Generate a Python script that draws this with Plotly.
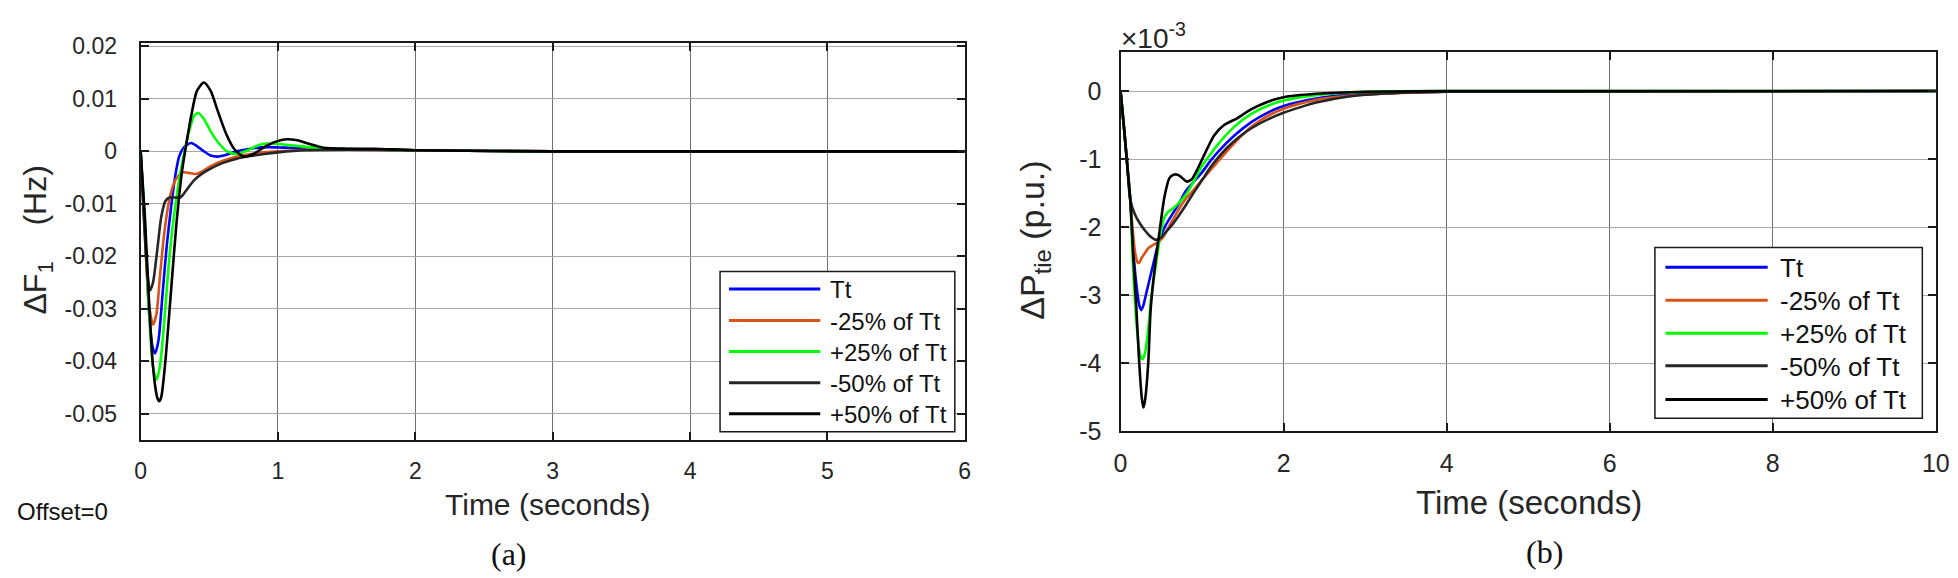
import plotly.graph_objects as go

W, H = 1958, 578

# ---------------- data ----------------
SERIES_NAMES = ["Tt", "-25% of Tt", "+25% of Tt", "-50% of Tt", "+50% of Tt"]
COLORS = ["#0000FF", "#D95319", "#00FF00", "#262626", "#000000"]

# Panel (a): Delta F1 (Hz) vs time (s)
A_T_TT = [0, 0.03, 0.06, 0.085, 0.105, 0.13, 0.16, 0.19, 0.22, 0.25, 0.28, 0.31, 0.34, 0.37, 0.41,
          0.46, 0.51, 0.56, 0.63, 0.7, 0.8, 0.92, 1.05, 1.3, 1.6, 2.0, 3.0, 6.0]
A_Y_TT = [0, -0.014, -0.030, -0.037, -0.0385, -0.036, -0.027, -0.018, -0.011, -0.005, -0.001, 0.0006,
          0.0013, 0.0016, 0.001, 0.0, -0.0008, -0.001, -0.0006, 0.0, 0.0005, 0.0008, 0.0007, 0.0005,
          0.0004, 0.0002, 0, 0]
A_T_M25 = [0, 0.03, 0.06, 0.09, 0.115, 0.14, 0.17, 0.2, 0.23, 0.27, 0.31, 0.35, 0.4, 0.45, 0.51, 0.6,
           0.7, 0.8, 0.9, 1.0, 1.2, 1.5, 2.0, 3.0, 6.0]
A_Y_M25 = [0, -0.015, -0.029, -0.033, -0.031, -0.024, -0.016, -0.0105, -0.007, -0.0048, -0.004,
           -0.0041, -0.0043, -0.0038, -0.0028, -0.0018, -0.001, -0.0005, -0.0002, 0.0, 0.0003, 0.0003,
           0.0002, 0, 0]
A_T_P25 = [0, 0.03, 0.06, 0.09, 0.115, 0.14, 0.17, 0.2, 0.23, 0.26, 0.29, 0.32, 0.36, 0.39, 0.42, 0.46,
           0.51, 0.57, 0.63, 0.7, 0.78, 0.86, 0.92, 1.0, 1.11, 1.33, 1.6, 2.0, 3.0, 6.0]
A_Y_P25 = [0, -0.013, -0.030, -0.041, -0.0435, -0.041, -0.033, -0.023, -0.015, -0.009, -0.004, 0.0,
           0.0045, 0.0068, 0.0073, 0.0062, 0.0038, 0.0015, 0.0, -0.0005, 0.0002, 0.0012, 0.0015, 0.0014,
           0.0011, 0.0006, 0.0004, 0.0002, 0, 0]
A_T_M50 = [0, 0.02, 0.045, 0.067, 0.09, 0.12, 0.15, 0.18, 0.21, 0.25, 0.29, 0.33, 0.39, 0.45, 0.51, 0.6,
           0.7, 0.8, 0.9, 1.0, 1.2, 1.5, 2.0, 3.0, 6.0]
A_Y_M50 = [0, -0.011, -0.022, -0.0265, -0.025, -0.019, -0.0125, -0.0095, -0.0088, -0.0088, -0.0088,
           -0.0075, -0.0055, -0.0042, -0.0033, -0.0022, -0.0014, -0.0009, -0.0005, -0.0002, 0.0002,
           0.0003, 0.0002, 0, 0]
A_T_P50 = [0, 0.03, 0.06, 0.09, 0.12, 0.135, 0.15, 0.18, 0.22, 0.26, 0.30, 0.33, 0.37, 0.41, 0.46, 0.51,
           0.56, 0.62, 0.68, 0.75, 0.82, 0.9, 0.98, 1.06, 1.14, 1.23, 1.33, 1.5, 1.7, 2.0, 3.0, 6.0]
A_Y_P50 = [0, -0.012, -0.028, -0.041, -0.0468, -0.0476, -0.0468, -0.040, -0.027, -0.014, -0.004, 0.001,
           0.007, 0.0115, 0.0131, 0.0115, 0.0078, 0.0035, 0.0005, -0.001, -0.0005, 0.0008, 0.0018,
           0.0023, 0.0021, 0.0014, 0.0007, 0.0005, 0.0005, 0.0002, 0, 0]

# Panel (b): Delta P_tie (p.u., in units of 1e-3) vs time (s)
B_T_TT = [0, 0.04, 0.08, 0.12, 0.16, 0.2, 0.23, 0.255, 0.28, 0.31, 0.36, 0.41, 0.45, 0.49, 0.55, 0.63,
          0.71, 0.8, 0.9, 0.99, 1.1, 1.19, 1.4, 1.6, 1.8, 2.0, 2.4, 2.8, 3.2, 4.0, 10.0]
B_Y_TT = [0, -0.5, -1.05, -1.6, -2.4, -2.9, -3.15, -3.22, -3.15, -3.0, -2.75, -2.5, -2.3, -2.14, -1.98,
          -1.82, -1.67, -1.47, -1.33, -1.21, -1.03, -0.9, -0.65, -0.46, -0.32, -0.22, -0.11, -0.05,
          -0.03, -0.01, 0]
B_T_M25 = [0, 0.04, 0.08, 0.12, 0.15, 0.18, 0.21, 0.23, 0.26, 0.3, 0.34, 0.4, 0.46, 0.52, 0.6, 0.71,
           0.79, 0.9, 0.99, 1.09, 1.19, 1.4, 1.6, 1.8, 2.0, 2.4, 2.8, 3.2, 4.0, 10.0]
B_Y_M25 = [0, -0.5, -1.05, -1.6, -2.05, -2.38, -2.52, -2.52, -2.45, -2.38, -2.31, -2.26, -2.22, -2.15,
           -1.98, -1.75, -1.6, -1.45, -1.32, -1.18, -1.04, -0.76, -0.53, -0.37, -0.26, -0.13, -0.07,
           -0.04, -0.01, 0]
B_T_P25 = [0, 0.04, 0.08, 0.12, 0.15, 0.18, 0.21, 0.24, 0.27, 0.3, 0.34, 0.38, 0.44, 0.49, 0.54, 0.59,
           0.65, 0.71, 0.77, 0.83, 0.91, 0.99, 1.09, 1.19, 1.39, 1.6, 1.8, 2.0, 2.4, 3.0, 4.0, 10.0]
B_Y_P25 = [0, -0.5, -1.05, -1.6, -2.5, -3.15, -3.6, -3.88, -3.94, -3.85, -3.5, -3.0, -2.5, -2.1, -1.85,
           -1.77, -1.72, -1.65, -1.57, -1.47, -1.3, -1.12, -0.95, -0.79, -0.53, -0.34, -0.22, -0.14,
           -0.06, -0.01, 0, 0]
B_T_M50 = [0, 0.04, 0.08, 0.12, 0.18, 0.24, 0.3, 0.36, 0.42, 0.46, 0.5, 0.55, 0.63, 0.71, 0.81, 0.91,
           1.01, 1.11, 1.21, 1.31, 1.45, 1.6, 1.8, 2.0, 2.2, 2.4, 2.8, 3.2, 4.0, 10.0]
B_Y_M50 = [0, -0.5, -1.05, -1.6, -1.82, -1.95, -2.05, -2.13, -2.18, -2.18, -2.15, -2.08, -1.97, -1.84,
           -1.66, -1.47, -1.29, -1.11, -0.96, -0.83, -0.68, -0.55, -0.42, -0.32, -0.24, -0.17, -0.08,
           -0.04, -0.01, 0]
B_T_P50 = [0, 0.04, 0.08, 0.12, 0.16, 0.19, 0.23, 0.26, 0.28, 0.3, 0.34, 0.37, 0.42, 0.48, 0.54, 0.6,
           0.65, 0.7, 0.75, 0.81, 0.87, 0.93, 1.03, 1.15, 1.27, 1.43, 1.6, 1.8, 2.0, 2.4, 3.0, 4.0, 10.0]
B_Y_P50 = [0, -0.5, -1.05, -1.6, -2.5, -3.1, -4.0, -4.5, -4.65, -4.55, -4.0, -3.2, -2.6, -2.05, -1.55,
           -1.28, -1.23, -1.23, -1.27, -1.33, -1.3, -1.18, -0.93, -0.65, -0.5, -0.4, -0.27, -0.16,
           -0.09, -0.04, -0.01, 0, 0]

# Axis ticks
A_XTICKS = [0, 1, 2, 3, 4, 5, 6]
A_XTICKTEXT = ["0", "1", "2", "3", "4", "5", "6"]
A_YTICKS = [0.02, 0.01, 0, -0.01, -0.02, -0.03, -0.04, -0.05]
A_YTICKTEXT = ["0.02", "0.01", "0", "-0.01", "-0.02", "-0.03", "-0.04", "-0.05"]
B_XTICKS = [0, 2, 4, 6, 8, 10]
B_XTICKTEXT = ["0", "2", "4", "6", "8", "10"]
B_YTICKS = [0, -1, -2, -3, -4, -5]
B_YTICKTEXT = ["0", "-1", "-2", "-3", "-4", "-5"]

A_SERIES = [(A_T_TT, A_Y_TT), (A_T_M25, A_Y_M25), (A_T_P25, A_Y_P25), (A_T_M50, A_Y_M50), (A_T_P50, A_Y_P50)]
B_SERIES = [(B_T_TT, B_Y_TT), (B_T_M25, B_Y_M25), (B_T_P25, B_Y_P25), (B_T_M50, B_Y_M50), (B_T_P50, B_Y_P50)]

# ---------------- figure ----------------
TEXT = "#262626"
SANS = "Liberation Sans, Arial, sans-serif"
SERIF = "Liberation Serif, Times New Roman, serif"


def px(x):
    return x / W


def py(y):
    return 1 - y / H


fig = go.Figure()
for (t, y), name, col in zip(A_SERIES, SERIES_NAMES, COLORS):
    fig.add_trace(go.Scatter(x=t, y=y, name=name, mode="lines", xaxis="x", yaxis="y",
                             line=dict(color=col, width=2.6, shape="spline", smoothing=0.7),
                             showlegend=False))
for (t, y), name, col in zip(B_SERIES, SERIES_NAMES, COLORS):
    fig.add_trace(go.Scatter(x=t, y=y, name=name, mode="lines", xaxis="x2", yaxis="y2",
                             line=dict(color=col, width=2.6, shape="spline", smoothing=0.7),
                             showlegend=False))

axis_common = dict(showline=True, mirror="ticks", linecolor="#1a1a1a", linewidth=2,
                   ticks="inside", ticklen=8, tickwidth=1.5, tickcolor="#1a1a1a",
                   showgrid=True, zeroline=False)

fig.update_layout(
    width=W, height=H, autosize=False,
    margin=dict(l=0, r=0, t=0, b=0),
    paper_bgcolor="white", plot_bgcolor="white",
    showlegend=False,
    xaxis=dict(domain=[px(127), px(960)], range=[0, 6], tickvals=A_XTICKS, ticktext=A_XTICKTEXT,
               gridcolor="#707070", gridwidth=1, anchor="y", ticklabelstandoff=9,
               tickfont=dict(family=SANS, size=23, color=TEXT), **axis_common),
    yaxis=dict(domain=[py(440.7), py(26.7)], range=[-0.055, 0.0207], tickvals=A_YTICKS,
               ticktext=A_YTICKTEXT, gridcolor="#a8a8a8", gridwidth=1.2, anchor="x",
               ticklabelstandoff=17, tickfont=dict(family=SANS, size=23, color=TEXT), **axis_common),
    xaxis2=dict(domain=[px(1117.5), px(1941.7)], range=[0, 10], tickvals=B_XTICKS, ticktext=B_XTICKTEXT,
                gridcolor="#707070", gridwidth=1, anchor="y2", ticklabelstandoff=9,
                tickfont=dict(family=SANS, size=25, color=TEXT), **axis_common),
    yaxis2=dict(domain=[py(431.5), py(36)], range=[-5, 0.58], tickvals=B_YTICKS, ticktext=B_YTICKTEXT,
                gridcolor="#a8a8a8", gridwidth=1.2, anchor="x2", ticklabelstandoff=12,
                tickfont=dict(family=SANS, size=25, color=TEXT), **axis_common),
)

annotations = [
    dict(text="Time (seconds)", x=px(539), y=py(508), font=dict(family=SANS, size=30, color=TEXT)),
    dict(text="Time (seconds)", x=px(1530), y=py(506), font=dict(family=SANS, size=33, color=TEXT)),
    dict(text="ΔF<sub>1</sub>&nbsp;&nbsp;&nbsp;&nbsp;(Hz)", x=px(23), y=py(232), textangle=-90,
         font=dict(family=SANS, size=32, color=TEXT)),
    dict(text="ΔP<sub>tie</sub> (p.u.)", x=px(1031), y=py(232), textangle=-90,
         font=dict(family=SANS, size=34, color=TEXT)),
    dict(text="×10<sup>-3</sup>", x=px(1116), y=py(20), xanchor="left",
         font=dict(family=SANS, size=28, color=TEXT)),
    dict(text="Offset=0", x=px(0), y=py(515), xanchor="left",
         font=dict(family=SANS, size=24, color="#111111")),
    dict(text="(a)", x=px(499), y=py(559), font=dict(family=SERIF, size=32, color="#111111")),
    dict(text="(b)", x=px(1546), y=py(557), font=dict(family=SERIF, size=32, color="#111111")),
]

shapes = []
# manual legend boxes (MATLAB style)
LEGENDS = [
    dict(box=(712.7, 265, 950, 432), rows=[283.3, 316, 348.3, 381, 413.3],
         line=(721.7, 814), text_x=821.7, size=24),
    dict(box=(1657.7, 240, 1928, 418), rows=[260.7, 295, 329.3, 363.3, 398.3],
         line=(1668.3, 1771.7), text_x=1781.7, size=26),
]
for lg in LEGENDS:
    x0, y0, x1, y1 = lg["box"]
    shapes.append(dict(type="rect", xref="paper", yref="paper", x0=px(x0), x1=px(x1), y0=py(y1), y1=py(y0),
                       fillcolor="white", line=dict(color="#1a1a1a", width=1.5), layer="above"))
    for ry, name, col in zip(lg["rows"], SERIES_NAMES, COLORS):
        shapes.append(dict(type="line", xref="paper", yref="paper", x0=px(lg["line"][0]), x1=px(lg["line"][1]),
                           y0=py(ry), y1=py(ry), line=dict(color=col, width=3), layer="above"))
        annotations.append(dict(text=name, x=px(lg["text_x"]), y=py(ry + 1), xanchor="left",
                                font=dict(family=SANS, size=lg["size"], color="#111111")))

for a in annotations:
    a.setdefault("xref", "paper")
    a.setdefault("yref", "paper")
    a.setdefault("showarrow", False)
    a.setdefault("xanchor", "center")
    a.setdefault("yanchor", "middle")

fig.update_layout(annotations=annotations, shapes=shapes)

fig.write_html("out.html")
